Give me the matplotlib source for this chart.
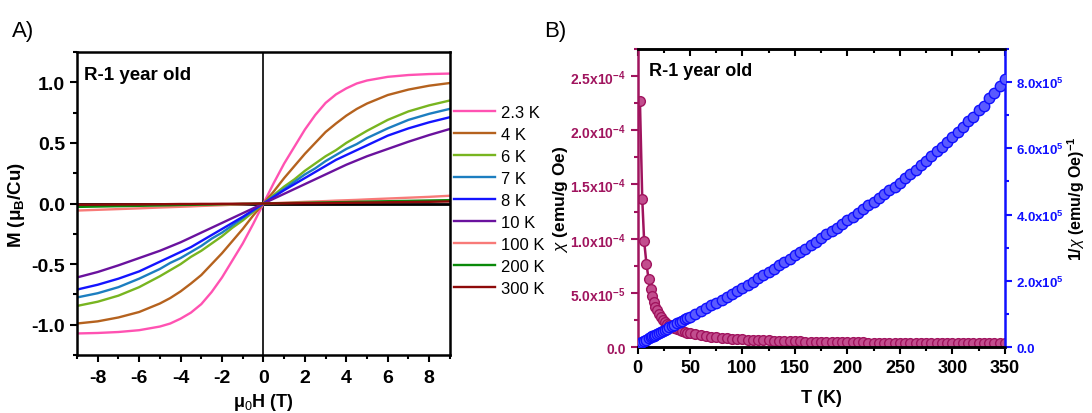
import matplotlib
matplotlib.use("Agg")
import matplotlib.pyplot as plt
from matplotlib.ticker import FixedLocator, FixedFormatter, MultipleLocator

plt.rcParams['font.family'] = ['Liberation Sans', 'DejaVu Sans']
plt.rcParams['axes.unicode_minus'] = False
plt.rcParams['mathtext.fontset'] = 'custom'
plt.rcParams['mathtext.rm'] = 'Liberation Sans'
plt.rcParams['mathtext.it'] = 'Liberation Sans:italic'
plt.rcParams['mathtext.bf'] = 'Liberation Sans:bold'

# ---------------- M(H) isotherms ----------------
field = [-9, -8, -7, -6, -5, -4.5, -4, -3.5, -3, -2.5, -2, -1.5, -1, -0.5, 0,
         0.5, 1, 1.5, 2, 2.5, 3, 3.5, 4, 4.5, 5, 6, 7, 8, 9]

m_2p3K = [-1.072, -1.068, -1.060, -1.045, -1.015, -0.990, -0.950, -0.900, -0.830, -0.730, -0.610, -0.470, -0.330, -0.170, 0.0,
          0.170, 0.330, 0.470, 0.610, 0.730, 0.830, 0.900, 0.950, 0.990, 1.015, 1.045, 1.060, 1.068, 1.072]
m_4K = [-0.990, -0.972, -0.940, -0.895, -0.825, -0.780, -0.725, -0.660, -0.590, -0.500, -0.410, -0.310, -0.210, -0.100, 0.0,
        0.100, 0.210, 0.310, 0.410, 0.500, 0.590, 0.660, 0.725, 0.780, 0.825, 0.895, 0.940, 0.972, 0.994]
m_6K = [-0.845, -0.810, -0.760, -0.690, -0.600, -0.550, -0.500, -0.440, -0.390, -0.330, -0.270, -0.200, -0.140, -0.070, 0.0,
        0.070, 0.140, 0.200, 0.270, 0.330, 0.390, 0.440, 0.500, 0.550, 0.600, 0.690, 0.760, 0.810, 0.850]
m_7K = [-0.775, -0.740, -0.690, -0.620, -0.540, -0.490, -0.450, -0.400, -0.350, -0.290, -0.240, -0.180, -0.120, -0.060, 0.0,
        0.060, 0.120, 0.180, 0.240, 0.290, 0.350, 0.400, 0.450, 0.490, 0.540, 0.620, 0.690, 0.740, 0.781]
m_8K = [-0.710, -0.670, -0.620, -0.560, -0.480, -0.440, -0.400, -0.360, -0.310, -0.260, -0.210, -0.160, -0.110, -0.055, 0.0,
        0.055, 0.110, 0.160, 0.210, 0.260, 0.310, 0.360, 0.400, 0.440, 0.480, 0.560, 0.620, 0.670, 0.712]
m_10K = [-0.610, -0.565, -0.510, -0.450, -0.390, -0.355, -0.320, -0.280, -0.240, -0.200, -0.160, -0.120, -0.080, -0.040, 0.0,
         0.040, 0.080, 0.120, 0.160, 0.200, 0.240, 0.280, 0.320, 0.355, 0.390, 0.450, 0.510, 0.565, 0.615]
m_100K = [-0.058, -0.052, -0.046, -0.040, -0.033, -0.030, -0.027, -0.024, -0.020, -0.017, -0.014, -0.010, -0.007, -0.003, 0.0,
          0.003, 0.007, 0.010, 0.014, 0.017, 0.020, 0.024, 0.027, 0.030, 0.034, 0.041, 0.048, 0.055, 0.064]
m_200K = [-0.028, -0.025, -0.022, -0.019, -0.016, -0.014, -0.012, -0.011, -0.009, -0.008, -0.006, -0.005, -0.003, -0.002, 0.0,
          0.002, 0.003, 0.005, 0.006, 0.008, 0.009, 0.011, 0.012, 0.014, 0.016, 0.019, 0.022, 0.025, 0.028]
m_300K = [-0.010, -0.009, -0.008, -0.007, -0.006, -0.005, -0.004, -0.004, -0.003, -0.003, -0.002, -0.002, -0.001, -0.001, 0.0,
          0.001, 0.001, 0.002, 0.003, 0.003, 0.004, 0.005, 0.006, 0.007, 0.008, 0.010, 0.012, 0.014, 0.017]

iso_labels = ['2.3 K', '4 K', '6 K', '7 K', '8 K', '10 K', '100 K', '200 K', '300 K']
iso_data = [m_2p3K, m_4K, m_6K, m_7K, m_8K, m_10K, m_100K, m_200K, m_300K]
iso_colors = ['#FF52B2', '#B5621E', '#78B520', '#1C7EC0', '#1414FF',
              '#6A129E', '#F87A78', '#0A8A0A', '#8E0A0A']

# ---------------- chi(T) and 1/chi(T) ----------------
temps = [2.3, 4.5, 6.3, 8.5, 10.5, 12.5, 14, 15.5, 17, 18.5, 20, 22, 24, 26, 28, 30,
         32.5, 35, 37.5, 40, 42.5, 45, 47.5, 50, 55, 60, 65, 70, 75, 80, 85, 90, 95,
         100, 105, 110, 115, 120, 125, 130, 135, 140, 145, 150, 155, 160, 165, 170,
         175, 180, 185, 190, 195, 200, 205, 210, 215, 220, 225, 230, 235, 240, 245,
         250, 255, 260, 265, 270, 275, 280, 285, 290, 295, 300, 305, 310, 315, 320,
         325, 330, 335, 340, 345, 350]

chi = [227e-6, 137e-6, 98e-6, 77e-6, 63e-6, 54e-6, 47e-6, 42e-6, 37.5e-6, 34e-6, 31e-6,
       28e-6, 25.5e-6, 23.5e-6, 21.8e-6, 20.3e-6, 18.8e-6, 17.6e-6, 16.6e-6, 15.8e-6,
       15.0e-6, 14.3e-6, 13.6e-6, 13.0e-6, 12.0e-6, 11.2e-6, 10.5e-6, 9.9e-6, 9.4e-6,
       8.9e-6, 8.5e-6, 8.1e-6, 7.7e-6, 7.4e-6, 7.1e-6, 6.9e-6, 6.7e-6, 6.5e-6, 6.3e-6,
       6.1e-6, 5.95e-6, 5.8e-6, 5.65e-6, 5.5e-6, 5.4e-6, 5.3e-6, 5.2e-6, 5.1e-6, 5.0e-6,
       4.92e-6, 4.84e-6, 4.76e-6, 4.68e-6, 4.6e-6, 4.54e-6, 4.48e-6, 4.42e-6, 4.37e-6,
       4.32e-6, 4.27e-6, 4.22e-6, 4.18e-6, 4.14e-6, 4.1e-6, 4.06e-6, 4.02e-6, 3.99e-6,
       3.96e-6, 3.93e-6, 3.9e-6, 3.87e-6, 3.85e-6, 3.83e-6, 3.81e-6, 3.79e-6, 3.77e-6,
       3.75e-6, 3.73e-6, 3.72e-6, 3.71e-6, 3.7e-6, 3.69e-6, 3.68e-6, 3.67e-6]

inv_chi = [0.12e5, 0.16e5, 0.19e5, 0.23e5, 0.27e5, 0.30e5, 0.33e5, 0.35e5, 0.38e5, 0.40e5,
           0.43e5, 0.46e5, 0.50e5, 0.53e5, 0.56e5, 0.60e5, 0.64e5, 0.68e5, 0.72e5, 0.76e5,
           0.80e5, 0.84e5, 0.88e5, 0.92e5, 1.00e5, 1.09e5, 1.17e5, 1.26e5, 1.34e5, 1.43e5,
           1.52e5, 1.61e5, 1.70e5, 1.80e5, 1.89e5, 1.98e5, 2.08e5, 2.17e5, 2.27e5, 2.37e5,
           2.47e5, 2.57e5, 2.67e5, 2.77e5, 2.87e5, 2.97e5, 3.08e5, 3.18e5, 3.29e5, 3.40e5,
           3.50e5, 3.61e5, 3.72e5, 3.83e5, 3.94e5, 4.05e5, 4.16e5, 4.28e5, 4.39e5, 4.50e5,
           4.61e5, 4.73e5, 4.84e5, 4.96e5, 5.09e5, 5.23e5, 5.33e5, 5.50e5, 5.62e5, 5.77e5,
           5.93e5, 6.04e5, 6.19e5, 6.33e5, 6.50e5, 6.64e5, 6.82e5, 6.95e5, 7.15e5, 7.28e5,
           7.50e5, 7.66e5, 7.88e5, 8.08e5]

chi_ticks = [0, 5e-5, 1e-4, 1.5e-4, 2e-4, 2.5e-4]
chi_ticklabels = ['0.0', r'5.0x10$^{\mathbf{-5}}$', r'1.0x10$^{\mathbf{-4}}$',
                  r'1.5x10$^{\mathbf{-4}}$', r'2.0x10$^{\mathbf{-4}}$', r'2.5x10$^{\mathbf{-4}}$']
inv_ticks = [0, 2e5, 4e5, 6e5, 8e5]
inv_ticklabels = ['0.0', r'2.0x10$^{\mathbf{5}}$', r'4.0x10$^{\mathbf{5}}$',
                  r'6.0x10$^{\mathbf{5}}$', r'8.0x10$^{\mathbf{5}}$']

CHI_COLOR = '#A0145E'
INV_COLOR = '#1010FF'

fig = plt.figure(figsize=(10.92, 4.14), dpi=100)

# ---------------- panel A ----------------
axA = fig.add_axes([0.0705, 0.140, 0.3415, 0.732])
axA.axhline(0, color='black', lw=2.0, zorder=1)
axA.axvline(0, color='black', lw=1.2, zorder=1)
for lab, m, c in zip(iso_labels, iso_data, iso_colors):
    axA.plot(field, m, color=c, lw=1.7, label=lab, zorder=2)
axA.set_xlim(-9, 9)
axA.set_ylim(-1.25, 1.25)
axA.xaxis.set_major_locator(MultipleLocator(2))
axA.xaxis.set_minor_locator(MultipleLocator(1))
axA.yaxis.set_major_locator(MultipleLocator(0.5))
axA.yaxis.set_minor_locator(MultipleLocator(0.25))
axA.tick_params(which='both', direction='out', top=False, right=False, width=1.5)
axA.tick_params(which='major', length=5, labelsize=14)
axA.tick_params(axis='x', which='major', pad=5)
axA.tick_params(which='minor', length=3)
for s in axA.spines.values():
    s.set_linewidth(1.8)
for t in axA.get_xticklabels() + axA.get_yticklabels():
    t.set_fontweight('bold')
axA.set_xlabel('μ$_0$H (T)', fontsize=13, fontweight='bold', labelpad=4)
axA.set_ylabel('M (μ$_\\mathregular{B}$/Cu)', fontsize=13.5, fontweight='bold', labelpad=3)
axA.text(0.018, 0.955, 'R-1 year old', transform=axA.transAxes, fontsize=13.5,
         fontweight='bold', va='top', ha='left')
fig.legend(loc='upper left', bbox_to_anchor=(0.4155, 1 - 106 / 414),
           bbox_transform=fig.transFigure, frameon=False, fontsize=12,
           handlelength=2.5, handletextpad=0.35, labelspacing=0.42, borderpad=0,
           borderaxespad=0)

# ---------------- panel B ----------------
axB = fig.add_axes([0.5838, 0.1587, 0.3365, 0.7213])
axB.plot(temps, chi, '-o', color=CHI_COLOR, lw=1.8, ms=7,
         mfc='#C24E8E', mec=CHI_COLOR, mew=1.0, zorder=2)
axB.set_xlim(0, 350)
axB.set_ylim(0, 2.75e-4)
axB.xaxis.set_major_locator(MultipleLocator(50))
axB.xaxis.set_minor_locator(MultipleLocator(25))
axB.yaxis.set_major_locator(FixedLocator(chi_ticks))
axB.yaxis.set_major_formatter(FixedFormatter(chi_ticklabels))
axB.yaxis.set_minor_locator(MultipleLocator(2.5e-5))
axB.tick_params(axis='x', which='both', direction='out', top=False, width=1.5)
axB.tick_params(axis='x', which='major', length=5, labelsize=13)
axB.tick_params(axis='x', which='minor', length=3)
axB.tick_params(axis='y', which='both', direction='out', color=CHI_COLOR,
                labelcolor=CHI_COLOR, width=1.5)
axB.tick_params(axis='y', which='major', length=5, labelsize=10)
axB.tick_params(axis='y', which='minor', length=3)
for t in axB.get_xticklabels() + axB.get_yticklabels():
    t.set_fontweight('bold')
axB.set_xlabel('T (K)', fontsize=13, fontweight='bold', labelpad=9)
axB.set_ylabel(r'$\chi$ (emu/g Oe)', fontsize=12.5, fontweight='bold', labelpad=0)
axB.text(0.03, 0.955, 'R-1 year old', transform=axB.transAxes, fontsize=13,
         fontweight='bold', va='top', ha='left')

# top ticks pointing inward
axTop = axB.secondary_xaxis('top')
axTop.xaxis.set_major_locator(MultipleLocator(50))
axTop.xaxis.set_minor_locator(MultipleLocator(25))
axTop.tick_params(which='both', direction='in', labeltop=False, width=1.5)
axTop.tick_params(which='major', length=5)
axTop.tick_params(which='minor', length=3)

axR = axB.twinx()
axR.plot(temps, inv_chi, 'o', ms=7.5, mfc='#5A5AFF', mec=INV_COLOR, mew=1.0, zorder=3)
axR.set_ylim(0, 9e5)
axR.yaxis.set_major_locator(FixedLocator(inv_ticks))
axR.yaxis.set_major_formatter(FixedFormatter(inv_ticklabels))
axR.yaxis.set_minor_locator(MultipleLocator(1e5))
axR.tick_params(axis='y', which='both', direction='out', color=INV_COLOR,
                labelcolor=INV_COLOR, width=1.5)
axR.tick_params(axis='y', which='major', length=5, labelsize=9.5, pad=3)
axR.tick_params(axis='y', which='minor', length=3)
for t in axR.get_yticklabels():
    t.set_fontweight('bold')
axR.set_ylabel(r'1/$\chi$ (emu/g Oe)$^{\mathbf{-1}}$', fontsize=11.5, fontweight='bold', labelpad=1)

for s in ['top', 'bottom']:
    axB.spines[s].set_linewidth(1.8)
    axR.spines[s].set_linewidth(1.8)
axB.spines['left'].set_color(CHI_COLOR)
axB.spines['left'].set_linewidth(1.8)
axR.spines['left'].set_visible(False)
axR.spines['right'].set_color(INV_COLOR)
axR.spines['right'].set_linewidth(1.8)
axB.spines['right'].set_visible(False)

fig.text(12 / 1092, 1 - 31 / 414, 'A)', fontsize=16, va='center', ha='left')
fig.text(544 / 1092, 1 - 31 / 414, 'B)', fontsize=16, va='center', ha='left')

fig.savefig('out.png', dpi=100)
